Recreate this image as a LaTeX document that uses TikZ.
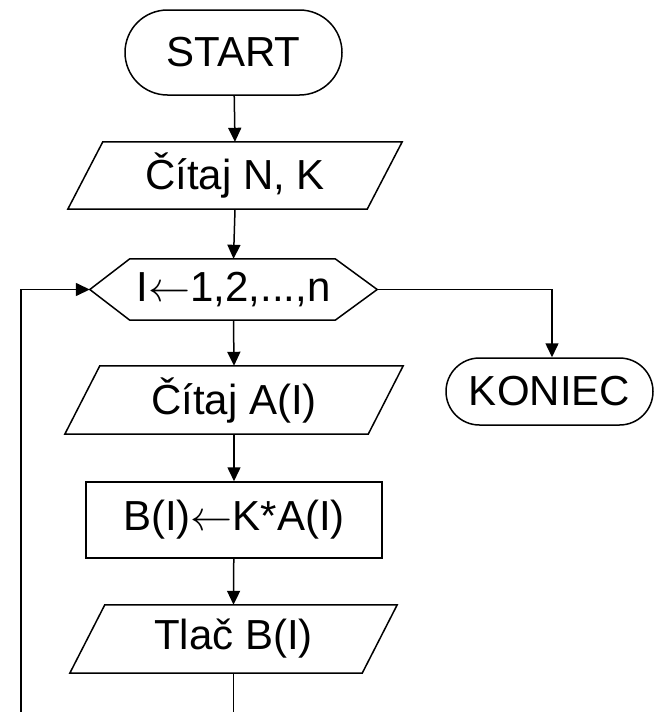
\RequirePackage{fix-cm}
\documentclass[tikz,border=0pt]{standalone}
\usepackage{fontspec}
\setmainfont{Liberation Sans}
\usetikzlibrary{shapes.misc,arrows.meta}
\newcommand{\larr}{\ensuremath{\leftarrow}}
\begin{document}
\begin{tikzpicture}[x=1pt,y=-1pt,
  every node/.style={font=\fontsize{42}{48}\selectfont, inner sep=0pt},
  ln/.style={line width=1.5pt},
  arr/.style={ln,-{Triangle[length=14pt,width=13pt]}},
  term/.style={draw,ln,rounded rectangle}
]
\useasboundingbox (0,0) rectangle (655,712);
% terminals
\node[term, minimum width=217pt, minimum height=85pt] (start) at (233.5,52.5) {START};
\node[term, minimum width=207pt, minimum height=67pt] (koniec) at (549.5,391.5) {KONIEC};
% parallelogram 1
\node[minimum width=334pt, minimum height=67pt] (p1) at (235,175.5) {Čítaj N, K};
\draw[ln] (p1.south west) -- ([xshift=-35pt]p1.south east) -- (p1.north east) -- ([xshift=35pt]p1.north west) -- cycle;
% hexagon
\node[minimum width=287pt, minimum height=61pt] (hex) at (233.5,289.5) {I\larr1,2,...,n};
\draw[ln] (hex.west) -- ([xshift=40pt]hex.north west) -- ([xshift=-42pt]hex.north east) -- (hex.east) -- ([xshift=-42pt]hex.south east) -- ([xshift=40pt]hex.south west) -- cycle;
% parallelogram 2
\node[minimum width=338pt, minimum height=68pt] (p2) at (234,400) {Čítaj A(I)};
\draw[ln] (p2.south west) -- ([xshift=-35pt]p2.south east) -- (p2.north east) -- ([xshift=35pt]p2.north west) -- cycle;
% rectangle
\node[draw, ln, minimum width=296pt, minimum height=76pt] (rect) at (234,520) {B(I)\larr K*A(I)};
% parallelogram 3
\node[minimum width=327pt, minimum height=68pt] (p3) at (233.5,639) {Tlač B(I)};
\draw[ln] (p3.south west) -- ([xshift=-35pt]p3.south east) -- (p3.north east) -- ([xshift=35pt]p3.north west) -- cycle;
% connectors
\draw[arr] (start) -- (p1.north);
\draw[arr] (p1.south) -- (hex.north);
\draw[arr] (hex.south) -- (p2.north);
\draw[arr] (p2.south) -- (rect);
\draw[arr] (rect) -- (p3.north);
\coordinate (bot) at (233.5,712);
\coordinate (botl) at (21,712);
\coordinate (kturn) at (552,289.5);
\draw[ln] (p3.south) -- (bot);
\draw[arr] (botl) |- (hex.west);
\draw[arr] (hex.east) -- (kturn) -- (kturn |- koniec.north);
\end{tikzpicture}
\end{document}
